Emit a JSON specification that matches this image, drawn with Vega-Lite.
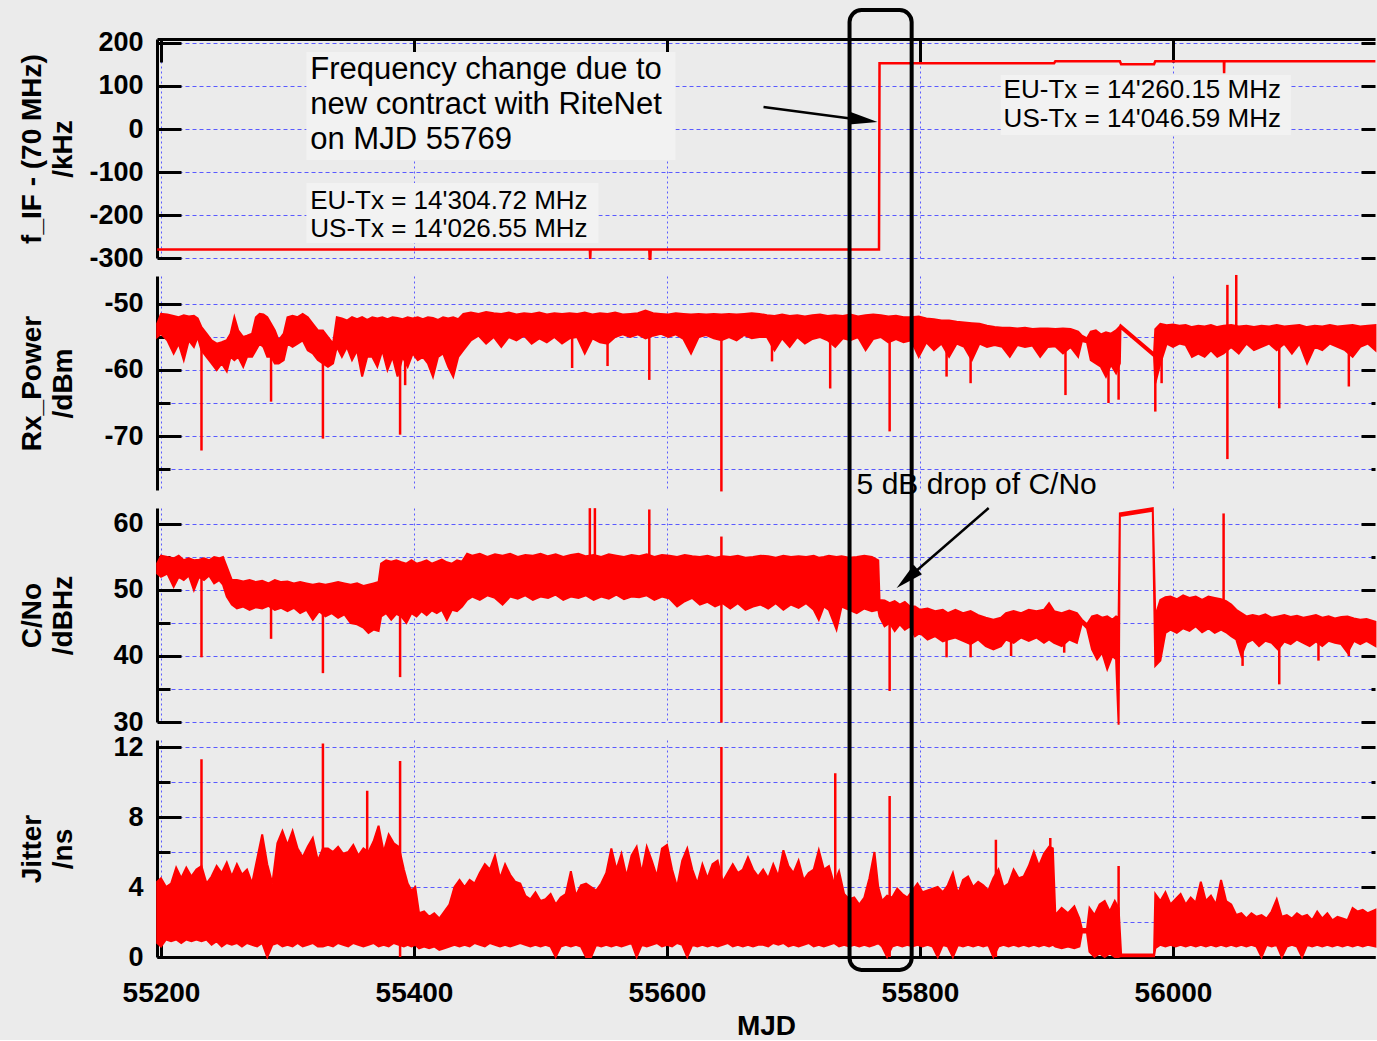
{
"$schema":"https://vega.github.io/schema/vega-lite/v6.json",
"background":"#ebebeb",
"padding":{"left":18,"top":8,"right":0,"bottom":0},
"spacing":18,
"bounds":"flush",
"config":{
 "view":{"stroke":null},
 "font":"Liberation Sans",
 "axis":{"labelFont":"Liberation Sans","labelFontWeight":"bold","labelColor":"#000000","titleFont":"Liberation Sans","titleFontWeight":"bold","titleColor":"#000000","domainColor":"#000000","tickColor":"#000000","gridColor":"#5a5aff","gridOpacity":1,"gridWidth":1,"labelOverlap":false,"labelFlush":false,"tickWidth":3,"domainWidth":3}
},
"datasets":{
 "boxes":[{"x1":55314.9,"x2":55606.7,"y1":179.1,"y2":-72.1},{"x1":55314.9,"x2":55545.8,"y1":-125.6,"y2":-265.1},{"x1":55863.8,"x2":56093.2,"y1":125.6,"y2":-14}],
 "note1":[{"x":55318,"y":137.2,"text":"Frequency change due to"},{"x":55318,"y":55.8,"text":"new contract with RiteNet"},{"x":55318,"y":-25.6,"text":"on MJD 55769"}],
 "note2":[{"x":55318,"y":-166.3,"text":"EU-Tx = 14'304.72 MHz"},{"x":55318,"y":-233.7,"text":"US-Tx = 14'026.55 MHz"},{"x":55866.1,"y":90.7,"text":"EU-Tx = 14'260.15 MHz"},{"x":55866.1,"y":23.3,"text":"US-Tx = 14'046.59 MHz"}],
 "arrow1":[{"x1":55676.3,"x2":55755.5,"y1":51.2,"y2":20.5}],
 "head1":[{"x":55755.5,"y":20.5}],
 "note3":[{"x":55749.9,"y":65.9,"text":"5 dB drop of C/No"}],
 "arrow2":[{"x1":55854.3,"x2":55789.9,"y1":62.42,"y2":51.7}],
 "head2":[{"x":55789.9,"y":51.7}],
 "frame":[{"x1":55744.3,"x2":55793.4,"y1":54.11,"y2":-0.74}],
 "fif":[{"mjd":55197,"v":-280},{"mjd":55539,"v":-280},{"mjd":55539.3,"v":-302},{"mjd":55539.6,"v":-280},{"mjd":55586,"v":-280},{"mjd":55586.3,"v":-302},{"mjd":55586.8,"v":-302},{"mjd":55587.1,"v":-280},{"mjd":55767.6,"v":-280},{"mjd":55768,"v":153},{"mjd":55906,"v":153},{"mjd":55907,"v":157.5},{"mjd":55958,"v":157.5},{"mjd":55959,"v":150.5},{"mjd":55985,"v":150.5},{"mjd":55986,"v":157.5},{"mjd":56040.2,"v":157.5},{"mjd":56040.4,"v":130},{"mjd":56040.6,"v":157.5},{"mjd":56160,"v":157.5}],
 "rxband":[{"mjd":55197,"lo":-55,"hi":-53},{"mjd":55200,"lo":-54.5,"hi":-51.5},{"mjd":55205,"lo":-55.5,"hi":-51.6},{"mjd":55210,"lo":-57.5,"hi":-51.8},{"mjd":55214,"lo":-56,"hi":-52},{"mjd":55218,"lo":-58.5,"hi":-51.7},{"mjd":55222,"lo":-55.5,"hi":-51.9},{"mjd":55226,"lo":-56.5,"hi":-51.8},{"mjd":55229,"lo":-55,"hi":-52.2},{"mjd":55232,"lo":-57,"hi":-53.5},{"mjd":55236,"lo":-58,"hi":-54.5},{"mjd":55240,"lo":-59,"hi":-55.5},{"mjd":55244,"lo":-60,"hi":-56},{"mjd":55248,"lo":-59,"hi":-55.8},{"mjd":55252,"lo":-60.2,"hi":-55.5},{"mjd":55255,"lo":-58,"hi":-54.5},{"mjd":55258,"lo":-58.5,"hi":-52},{"mjd":55261,"lo":-58,"hi":-54},{"mjd":55265,"lo":-59.5,"hi":-55},{"mjd":55268,"lo":-58,"hi":-54.8},{"mjd":55272,"lo":-58,"hi":-54.5},{"mjd":55275,"lo":-57,"hi":-52},{"mjd":55278,"lo":-56,"hi":-51.5},{"mjd":55281,"lo":-56.5,"hi":-51.6},{"mjd":55284,"lo":-58,"hi":-52},{"mjd":55287,"lo":-58,"hi":-53},{"mjd":55290,"lo":-59,"hi":-54},{"mjd":55293,"lo":-59,"hi":-55.5},{"mjd":55297,"lo":-58.5,"hi":-54.5},{"mjd":55300,"lo":-56,"hi":-52},{"mjd":55304,"lo":-56.5,"hi":-51.8},{"mjd":55308,"lo":-56,"hi":-52},{"mjd":55312,"lo":-55.5,"hi":-51.5},{"mjd":55316,"lo":-57,"hi":-52},{"mjd":55320,"lo":-57.5,"hi":-53},{"mjd":55324,"lo":-58.5,"hi":-54},{"mjd":55328,"lo":-59,"hi":-54},{"mjd":55332,"lo":-59.5,"hi":-55},{"mjd":55336,"lo":-59,"hi":-56},{"mjd":55339,"lo":-56.5,"hi":-52},{"mjd":55343,"lo":-58,"hi":-52.2},{"mjd":55347,"lo":-56.5,"hi":-52.5},{"mjd":55351,"lo":-58.5,"hi":-52},{"mjd":55355,"lo":-57,"hi":-52.3},{"mjd":55359,"lo":-61,"hi":-52},{"mjd":55363,"lo":-58,"hi":-52.4},{"mjd":55367,"lo":-58,"hi":-52},{"mjd":55371,"lo":-59.5,"hi":-52.2},{"mjd":55375,"lo":-57,"hi":-52},{"mjd":55379,"lo":-60,"hi":-52.3},{"mjd":55383,"lo":-58,"hi":-52},{"mjd":55387,"lo":-61,"hi":-52.1},{"mjd":55391,"lo":-58,"hi":-52.3},{"mjd":55395,"lo":-59.5,"hi":-52},{"mjd":55399,"lo":-57.5,"hi":-52.2},{"mjd":55403,"lo":-58.5,"hi":-52},{"mjd":55407,"lo":-58,"hi":-52.3},{"mjd":55411,"lo":-59,"hi":-52},{"mjd":55415,"lo":-61,"hi":-52.1},{"mjd":55419,"lo":-58,"hi":-52.4},{"mjd":55423,"lo":-57.5,"hi":-52},{"mjd":55427,"lo":-59.5,"hi":-52.2},{"mjd":55431,"lo":-61,"hi":-52},{"mjd":55435,"lo":-58,"hi":-52.3},{"mjd":55439,"lo":-57,"hi":-51.5},{"mjd":55445,"lo":-55.5,"hi":-51.3},{"mjd":55451,"lo":-54.8,"hi":-51.5},{"mjd":55457,"lo":-56,"hi":-51.2},{"mjd":55463,"lo":-55,"hi":-51.4},{"mjd":55469,"lo":-56.5,"hi":-51.5},{"mjd":55475,"lo":-55,"hi":-51.3},{"mjd":55481,"lo":-55.5,"hi":-51.6},{"mjd":55487,"lo":-54.8,"hi":-51.4},{"mjd":55493,"lo":-56,"hi":-51.5},{"mjd":55499,"lo":-55.2,"hi":-51.3},{"mjd":55505,"lo":-55.8,"hi":-51.6},{"mjd":55511,"lo":-55,"hi":-51.4},{"mjd":55517,"lo":-56,"hi":-51.5},{"mjd":55523,"lo":-55.2,"hi":-51.4},{"mjd":55529,"lo":-55,"hi":-51.5},{"mjd":55535,"lo":-57.5,"hi":-51.3},{"mjd":55541,"lo":-55.2,"hi":-51.6},{"mjd":55547,"lo":-55.8,"hi":-51.4},{"mjd":55553,"lo":-56,"hi":-51.5},{"mjd":55559,"lo":-55,"hi":-51.3},{"mjd":55565,"lo":-54.6,"hi":-51.6},{"mjd":55571,"lo":-55,"hi":-51.5},{"mjd":55577,"lo":-54.6,"hi":-51.4},{"mjd":55583,"lo":-55.2,"hi":-51},{"mjd":55589,"lo":-54.8,"hi":-51.4},{"mjd":55595,"lo":-54.5,"hi":-51.5},{"mjd":55601,"lo":-55,"hi":-51.6},{"mjd":55607,"lo":-54.6,"hi":-51.4},{"mjd":55613,"lo":-55.3,"hi":-51.5},{"mjd":55619,"lo":-57.5,"hi":-51.6},{"mjd":55625,"lo":-55,"hi":-51.5},{"mjd":55631,"lo":-54.7,"hi":-51.6},{"mjd":55637,"lo":-55.2,"hi":-51.5},{"mjd":55643,"lo":-55.5,"hi":-51.6},{"mjd":55649,"lo":-55,"hi":-51.5},{"mjd":55655,"lo":-55.5,"hi":-51.6},{"mjd":55661,"lo":-54.7,"hi":-51.5},{"mjd":55667,"lo":-55.2,"hi":-51.4},{"mjd":55673,"lo":-55,"hi":-51.5},{"mjd":55679,"lo":-55,"hi":-51.7},{"mjd":55685,"lo":-57,"hi":-51.8},{"mjd":55691,"lo":-55.2,"hi":-51.6},{"mjd":55697,"lo":-56.5,"hi":-51.8},{"mjd":55703,"lo":-55,"hi":-51.7},{"mjd":55709,"lo":-56,"hi":-51.9},{"mjd":55715,"lo":-55.3,"hi":-51.7},{"mjd":55721,"lo":-55,"hi":-51.6},{"mjd":55727,"lo":-55.5,"hi":-51.8},{"mjd":55733,"lo":-56.5,"hi":-51.7},{"mjd":55739,"lo":-55.2,"hi":-51.8},{"mjd":55745,"lo":-55.5,"hi":-51.6},{"mjd":55751,"lo":-55,"hi":-51.9},{"mjd":55757,"lo":-57,"hi":-51.7},{"mjd":55763,"lo":-55.3,"hi":-51.6},{"mjd":55769,"lo":-55,"hi":-51.7},{"mjd":55775,"lo":-55.8,"hi":-51.9},{"mjd":55781,"lo":-55.3,"hi":-51.8},{"mjd":55787,"lo":-55.8,"hi":-52},{"mjd":55793,"lo":-55.5,"hi":-52},{"mjd":55799,"lo":-58,"hi":-51.9},{"mjd":55805,"lo":-55.8,"hi":-52.2},{"mjd":55811,"lo":-57,"hi":-52.3},{"mjd":55817,"lo":-56,"hi":-52.5},{"mjd":55823,"lo":-58,"hi":-52.5},{"mjd":55829,"lo":-56,"hi":-52.7},{"mjd":55835,"lo":-56.5,"hi":-52.8},{"mjd":55841,"lo":-58.5,"hi":-52.9},{"mjd":55847,"lo":-56,"hi":-53},{"mjd":55853,"lo":-56.5,"hi":-53.3},{"mjd":55859,"lo":-56.2,"hi":-53.5},{"mjd":55865,"lo":-56.5,"hi":-53.6},{"mjd":55871,"lo":-58,"hi":-53.6},{"mjd":55877,"lo":-56.2,"hi":-53.7},{"mjd":55883,"lo":-56.5,"hi":-53.6},{"mjd":55889,"lo":-56.3,"hi":-53.8},{"mjd":55895,"lo":-58,"hi":-53.7},{"mjd":55901,"lo":-56.5,"hi":-53.7},{"mjd":55907,"lo":-56.4,"hi":-53.8},{"mjd":55913,"lo":-57.5,"hi":-53.7},{"mjd":55919,"lo":-56.5,"hi":-53.8},{"mjd":55925,"lo":-58,"hi":-54.2},{"mjd":55928,"lo":-55.6,"hi":-54.8},{"mjd":55932,"lo":-55.8,"hi":-55.2},{"mjd":55935,"lo":-58.5,"hi":-54.2},{"mjd":55939,"lo":-59,"hi":-54},{"mjd":55943,"lo":-59.5,"hi":-54.6},{"mjd":55947,"lo":-61,"hi":-54.3},{"mjd":55951,"lo":-59.2,"hi":-54.5},{"mjd":55955,"lo":-60.5,"hi":-54},{"mjd":55958,"lo":-59,"hi":-53.4},{"mjd":55958.5,"lo":-53.6,"hi":-53.2},{"mjd":55985,"lo":-57.9,"hi":-57.5},{"mjd":55986,"lo":-62,"hi":-53.8},{"mjd":55990,"lo":-59,"hi":-53},{"mjd":55995,"lo":-56,"hi":-53.2},{"mjd":56000,"lo":-56.5,"hi":-53.1},{"mjd":56005,"lo":-56,"hi":-53.3},{"mjd":56010,"lo":-56.2,"hi":-53.2},{"mjd":56015,"lo":-58,"hi":-53.5},{"mjd":56020,"lo":-57.5,"hi":-53.3},{"mjd":56025,"lo":-58,"hi":-53.4},{"mjd":56030,"lo":-57,"hi":-53.2},{"mjd":56035,"lo":-58,"hi":-53.5},{"mjd":56040,"lo":-57.5,"hi":-53.3},{"mjd":56046,"lo":-56.5,"hi":-53.2},{"mjd":56052,"lo":-57.5,"hi":-53.4},{"mjd":56058,"lo":-56,"hi":-53.3},{"mjd":56064,"lo":-57,"hi":-53.5},{"mjd":56070,"lo":-56.5,"hi":-53.3},{"mjd":56076,"lo":-56,"hi":-53.4},{"mjd":56082,"lo":-57,"hi":-53.2},{"mjd":56088,"lo":-56,"hi":-53.4},{"mjd":56094,"lo":-57.5,"hi":-53.3},{"mjd":56100,"lo":-56,"hi":-53.2},{"mjd":56106,"lo":-59,"hi":-53.5},{"mjd":56112,"lo":-56.5,"hi":-53.3},{"mjd":56118,"lo":-57,"hi":-53.4},{"mjd":56124,"lo":-56,"hi":-53.2},{"mjd":56130,"lo":-56.5,"hi":-53.4},{"mjd":56136,"lo":-57,"hi":-53.3},{"mjd":56142,"lo":-58,"hi":-53.2},{"mjd":56148,"lo":-56.5,"hi":-53.4},{"mjd":56154,"lo":-56,"hi":-53.3},{"mjd":56160,"lo":-57,"hi":-53.2}],
 "rxspike":[{"mjd":55232,"lo":-72.2,"hi":-55},{"mjd":55287,"lo":-64.8,"hi":-56},{"mjd":55328,"lo":-70.4,"hi":-56},{"mjd":55389,"lo":-69.8,"hi":-55},{"mjd":55393,"lo":-62.3,"hi":-56},{"mjd":55525,"lo":-59.7,"hi":-53},{"mjd":55553,"lo":-59.4,"hi":-53},{"mjd":55586,"lo":-61.5,"hi":-53},{"mjd":55643,"lo":-78.4,"hi":-53},{"mjd":55683,"lo":-58.7,"hi":-53},{"mjd":55729,"lo":-62.8,"hi":-54},{"mjd":55776,"lo":-69.3,"hi":-54},{"mjd":55821,"lo":-61,"hi":-54},{"mjd":55840,"lo":-62,"hi":-54},{"mjd":55915,"lo":-63.8,"hi":-55},{"mjd":55949,"lo":-65,"hi":-57},{"mjd":55957,"lo":-64.5,"hi":-57},{"mjd":55986,"lo":-66.3,"hi":-58},{"mjd":55991,"lo":-62,"hi":-56},{"mjd":56043,"lo":-73.5,"hi":-47.1},{"mjd":56050,"lo":-56,"hi":-45.6},{"mjd":56084,"lo":-65.8,"hi":-55},{"mjd":56139,"lo":-62.5,"hi":-55}],
 "cnband":[{"mjd":55197,"lo":52.5,"hi":54},{"mjd":55200,"lo":52,"hi":55.2},{"mjd":55205,"lo":52.5,"hi":55},{"mjd":55210,"lo":50.5,"hi":54.8},{"mjd":55214,"lo":52,"hi":55.2},{"mjd":55218,"lo":51.5,"hi":54.5},{"mjd":55222,"lo":52.2,"hi":54.8},{"mjd":55226,"lo":50,"hi":54.5},{"mjd":55230,"lo":52,"hi":54.6},{"mjd":55234,"lo":51.5,"hi":54.8},{"mjd":55238,"lo":52.2,"hi":54.5},{"mjd":55242,"lo":51,"hi":55},{"mjd":55246,"lo":51.5,"hi":54.8},{"mjd":55249,"lo":50.8,"hi":55},{"mjd":55252,"lo":49,"hi":53.5},{"mjd":55256,"lo":47.8,"hi":51.5},{"mjd":55260,"lo":47.2,"hi":51.5},{"mjd":55265,"lo":47.5,"hi":51.3},{"mjd":55270,"lo":47,"hi":51.5},{"mjd":55275,"lo":47.4,"hi":51.2},{"mjd":55280,"lo":47.2,"hi":51.4},{"mjd":55285,"lo":47.6,"hi":51},{"mjd":55290,"lo":47,"hi":51.5},{"mjd":55295,"lo":47.3,"hi":51.2},{"mjd":55300,"lo":46.8,"hi":51.3},{"mjd":55305,"lo":47.3,"hi":51},{"mjd":55310,"lo":46.5,"hi":51.2},{"mjd":55315,"lo":47,"hi":51},{"mjd":55320,"lo":45.5,"hi":50.8},{"mjd":55325,"lo":46.8,"hi":51},{"mjd":55330,"lo":46,"hi":50.8},{"mjd":55335,"lo":46.5,"hi":51},{"mjd":55340,"lo":45.8,"hi":51.2},{"mjd":55345,"lo":46.3,"hi":51},{"mjd":55350,"lo":45,"hi":50.8},{"mjd":55355,"lo":44.8,"hi":51},{"mjd":55360,"lo":44.3,"hi":50.6},{"mjd":55364,"lo":43.5,"hi":50.8},{"mjd":55368,"lo":44,"hi":51},{"mjd":55372,"lo":43.8,"hi":51.2},{"mjd":55374,"lo":46,"hi":54},{"mjd":55378,"lo":46.5,"hi":54.5},{"mjd":55382,"lo":45.5,"hi":54.3},{"mjd":55386,"lo":46.4,"hi":54.5},{"mjd":55390,"lo":46,"hi":54.2},{"mjd":55394,"lo":45,"hi":54},{"mjd":55398,"lo":46.5,"hi":54.5},{"mjd":55402,"lo":46,"hi":54},{"mjd":55406,"lo":46.8,"hi":54.2},{"mjd":55410,"lo":46.2,"hi":54.5},{"mjd":55414,"lo":46.9,"hi":54},{"mjd":55418,"lo":46.5,"hi":54.3},{"mjd":55422,"lo":47,"hi":54.6},{"mjd":55426,"lo":45.5,"hi":54.2},{"mjd":55430,"lo":47,"hi":54},{"mjd":55434,"lo":46.8,"hi":54.5},{"mjd":55438,"lo":47.5,"hi":54.3},{"mjd":55442,"lo":48.5,"hi":55.5},{"mjd":55446,"lo":49,"hi":55.2},{"mjd":55452,"lo":48.5,"hi":55.5},{"mjd":55458,"lo":49.2,"hi":55},{"mjd":55464,"lo":48.8,"hi":55.4},{"mjd":55470,"lo":47.8,"hi":55.2},{"mjd":55476,"lo":49,"hi":55.5},{"mjd":55482,"lo":48.7,"hi":55},{"mjd":55488,"lo":49.2,"hi":55.3},{"mjd":55494,"lo":48.5,"hi":55.2},{"mjd":55500,"lo":49,"hi":55.5},{"mjd":55506,"lo":48.8,"hi":55.1},{"mjd":55512,"lo":49.3,"hi":55.4},{"mjd":55518,"lo":48.5,"hi":55},{"mjd":55524,"lo":49,"hi":55.3},{"mjd":55530,"lo":48.8,"hi":55.5},{"mjd":55536,"lo":49.2,"hi":55.1},{"mjd":55542,"lo":48.5,"hi":55.3},{"mjd":55548,"lo":49,"hi":55},{"mjd":55554,"lo":48.7,"hi":55.4},{"mjd":55560,"lo":49.3,"hi":55.2},{"mjd":55566,"lo":48.6,"hi":55},{"mjd":55572,"lo":49,"hi":55.3},{"mjd":55578,"lo":48.9,"hi":55.1},{"mjd":55584,"lo":49.2,"hi":55.4},{"mjd":55590,"lo":48.5,"hi":55},{"mjd":55596,"lo":49,"hi":55.3},{"mjd":55602,"lo":48.7,"hi":55.2},{"mjd":55608,"lo":47.5,"hi":55},{"mjd":55614,"lo":48.3,"hi":55.3},{"mjd":55620,"lo":48.8,"hi":55.1},{"mjd":55626,"lo":47.8,"hi":55},{"mjd":55632,"lo":48.2,"hi":55.2},{"mjd":55638,"lo":47.5,"hi":54.9},{"mjd":55644,"lo":48,"hi":55.1},{"mjd":55650,"lo":47.2,"hi":55},{"mjd":55656,"lo":48,"hi":55.2},{"mjd":55662,"lo":47,"hi":54.9},{"mjd":55668,"lo":47.5,"hi":55},{"mjd":55674,"lo":47.8,"hi":55.2},{"mjd":55680,"lo":47.2,"hi":55.1},{"mjd":55686,"lo":48,"hi":54.9},{"mjd":55692,"lo":47,"hi":55.2},{"mjd":55698,"lo":47.8,"hi":55},{"mjd":55704,"lo":47.3,"hi":55.1},{"mjd":55710,"lo":48,"hi":55},{"mjd":55716,"lo":47,"hi":55.2},{"mjd":55720,"lo":45.5,"hi":54.9},{"mjd":55724,"lo":47.5,"hi":55},{"mjd":55728,"lo":47,"hi":55.2},{"mjd":55734,"lo":44,"hi":55},{"mjd":55738,"lo":47.5,"hi":55.1},{"mjd":55744,"lo":47,"hi":54.9},{"mjd":55750,"lo":46.5,"hi":55},{"mjd":55756,"lo":47.2,"hi":55.2},{"mjd":55762,"lo":46.8,"hi":55},{"mjd":55767,"lo":47,"hi":54.5},{"mjd":55768,"lo":46,"hi":48.5},{"mjd":55772,"lo":44.5,"hi":48.4},{"mjd":55776,"lo":45,"hi":48},{"mjd":55780,"lo":43.8,"hi":48.3},{"mjd":55784,"lo":44.8,"hi":47.8},{"mjd":55788,"lo":44,"hi":48.2},{"mjd":55792,"lo":44.5,"hi":47.5},{"mjd":55796,"lo":43,"hi":47.5},{"mjd":55800,"lo":43.5,"hi":47},{"mjd":55806,"lo":42.5,"hi":47.2},{"mjd":55812,"lo":43,"hi":46.8},{"mjd":55818,"lo":42.2,"hi":47},{"mjd":55822,"lo":42.5,"hi":46.5},{"mjd":55828,"lo":42.8,"hi":47},{"mjd":55834,"lo":42.3,"hi":46.5},{"mjd":55840,"lo":41.8,"hi":46.8},{"mjd":55846,"lo":42.5,"hi":46.2},{"mjd":55852,"lo":41.5,"hi":45.8},{"mjd":55858,"lo":41,"hi":45.5},{"mjd":55864,"lo":41.5,"hi":45.8},{"mjd":55868,"lo":42.5,"hi":46.5},{"mjd":55874,"lo":42,"hi":46.8},{"mjd":55880,"lo":42.8,"hi":46.5},{"mjd":55886,"lo":42.3,"hi":47},{"mjd":55892,"lo":42.8,"hi":46.8},{"mjd":55898,"lo":42,"hi":47},{"mjd":55902,"lo":42.5,"hi":48},{"mjd":55906,"lo":42,"hi":46.8},{"mjd":55912,"lo":41.5,"hi":46.5},{"mjd":55918,"lo":42.5,"hi":46.9},{"mjd":55924,"lo":42,"hi":46.5},{"mjd":55928,"lo":45,"hi":45.5},{"mjd":55932,"lo":44.2,"hi":44.8},{"mjd":55936,"lo":41,"hi":46},{"mjd":55940,"lo":39.5,"hi":46.2},{"mjd":55944,"lo":40.5,"hi":45.8},{"mjd":55948,"lo":38,"hi":46},{"mjd":55952,"lo":40,"hi":45.5},{"mjd":55955,"lo":39.5,"hi":46},{"mjd":55957,"lo":29.6,"hi":45.8},{"mjd":55958,"lo":61.2,"hi":61.6},{"mjd":55984,"lo":62,"hi":62.4},{"mjd":55986,"lo":38.5,"hi":46},{"mjd":55990,"lo":39.3,"hi":48.5},{"mjd":55994,"lo":43.5,"hi":48.9},{"mjd":55998,"lo":44,"hi":49},{"mjd":56003,"lo":43.5,"hi":48.6},{"mjd":56008,"lo":44.2,"hi":49.2},{"mjd":56013,"lo":43.8,"hi":48.8},{"mjd":56018,"lo":44.5,"hi":49},{"mjd":56023,"lo":43.6,"hi":48.5},{"mjd":56028,"lo":44.2,"hi":49},{"mjd":56033,"lo":43.5,"hi":48.8},{"mjd":56038,"lo":44,"hi":48.6},{"mjd":56042,"lo":43.6,"hi":48.3},{"mjd":56046,"lo":43,"hi":47.8},{"mjd":56050,"lo":42.5,"hi":47},{"mjd":56054,"lo":40,"hi":46.5},{"mjd":56058,"lo":42,"hi":46},{"mjd":56063,"lo":42.5,"hi":46.2},{"mjd":56068,"lo":41.5,"hi":46},{"mjd":56073,"lo":42.3,"hi":46.3},{"mjd":56078,"lo":42,"hi":45.8},{"mjd":56083,"lo":41,"hi":46},{"mjd":56088,"lo":42.2,"hi":46.2},{"mjd":56093,"lo":41.8,"hi":45.9},{"mjd":56098,"lo":42.5,"hi":46.1},{"mjd":56103,"lo":42,"hi":45.8},{"mjd":56108,"lo":41.5,"hi":46},{"mjd":56113,"lo":42.2,"hi":46.2},{"mjd":56118,"lo":41.5,"hi":45.8},{"mjd":56123,"lo":42.3,"hi":46},{"mjd":56128,"lo":42,"hi":45.7},{"mjd":56133,"lo":41.8,"hi":45.9},{"mjd":56138,"lo":40.5,"hi":46},{"mjd":56143,"lo":42.3,"hi":45.7},{"mjd":56148,"lo":41.8,"hi":45.5},{"mjd":56153,"lo":42.3,"hi":45.6},{"mjd":56160,"lo":41.5,"hi":45.2}],
 "cnspike":[{"mjd":55232,"lo":39.8,"hi":52},{"mjd":55287,"lo":42.6,"hi":48},{"mjd":55328,"lo":37.4,"hi":48},{"mjd":55389,"lo":36.8,"hi":48},{"mjd":55539,"lo":50,"hi":62.4},{"mjd":55543,"lo":50,"hi":62.4},{"mjd":55586,"lo":50,"hi":62.2},{"mjd":55643,"lo":29.9,"hi":58.1},{"mjd":55776,"lo":34.7,"hi":46},{"mjd":55821,"lo":39.8,"hi":45},{"mjd":55840,"lo":39.8,"hi":45},{"mjd":55872,"lo":40,"hi":45},{"mjd":55914,"lo":40.5,"hi":45},{"mjd":56040,"lo":45,"hi":61.6},{"mjd":56055,"lo":38.5,"hi":45},{"mjd":56084,"lo":35.7,"hi":44},{"mjd":56115,"lo":39.3,"hi":44},{"mjd":56139,"lo":40,"hi":44}],
 "jtband":[{"mjd":55197,"lo":0.8,"hi":4.3},{"mjd":55200,"lo":0.6,"hi":4.5},{"mjd":55204,"lo":1,"hi":4},{"mjd":55208,"lo":0.9,"hi":4.2},{"mjd":55212,"lo":1,"hi":5.1},{"mjd":55216,"lo":0.8,"hi":4.5},{"mjd":55220,"lo":1,"hi":5.1},{"mjd":55224,"lo":0.9,"hi":4.6},{"mjd":55228,"lo":1,"hi":5},{"mjd":55232,"lo":0.9,"hi":5.2},{"mjd":55236,"lo":1,"hi":4.2},{"mjd":55240,"lo":0.7,"hi":4.6},{"mjd":55244,"lo":0.9,"hi":5.2},{"mjd":55248,"lo":0.6,"hi":4.8},{"mjd":55252,"lo":0.8,"hi":5.4},{"mjd":55256,"lo":0.7,"hi":4.6},{"mjd":55260,"lo":0.8,"hi":5.3},{"mjd":55264,"lo":0.6,"hi":4.7},{"mjd":55268,"lo":0.8,"hi":5},{"mjd":55272,"lo":0.7,"hi":4.2},{"mjd":55276,"lo":0.6,"hi":5.6},{"mjd":55280,"lo":0.8,"hi":7},{"mjd":55284,"lo":0,"hi":5.3},{"mjd":55288,"lo":0.7,"hi":4.2},{"mjd":55292,"lo":0.8,"hi":6.5},{"mjd":55296,"lo":0.6,"hi":7.2},{"mjd":55300,"lo":0.7,"hi":6.4},{"mjd":55304,"lo":0.6,"hi":7.2},{"mjd":55308,"lo":0.8,"hi":6.2},{"mjd":55312,"lo":0.6,"hi":5.7},{"mjd":55316,"lo":0.7,"hi":6.3},{"mjd":55320,"lo":0.8,"hi":6.8},{"mjd":55324,"lo":0.6,"hi":5.5},{"mjd":55328,"lo":0.6,"hi":6.2},{"mjd":55332,"lo":0.7,"hi":6.2},{"mjd":55336,"lo":0.6,"hi":6},{"mjd":55340,"lo":0.8,"hi":6.3},{"mjd":55344,"lo":0.7,"hi":5.9},{"mjd":55348,"lo":0.6,"hi":6},{"mjd":55352,"lo":0.8,"hi":6.4},{"mjd":55356,"lo":0.7,"hi":5.8},{"mjd":55360,"lo":0.6,"hi":6.2},{"mjd":55364,"lo":0.7,"hi":6},{"mjd":55368,"lo":0.8,"hi":6.6},{"mjd":55372,"lo":0.6,"hi":7.5},{"mjd":55376,"lo":0.7,"hi":6},{"mjd":55380,"lo":0.6,"hi":7},{"mjd":55384,"lo":0.8,"hi":6.5},{"mjd":55388,"lo":0.7,"hi":6.3},{"mjd":55392,"lo":0.6,"hi":5},{"mjd":55395,"lo":0.7,"hi":4.2},{"mjd":55398,"lo":0.6,"hi":3.8},{"mjd":55401,"lo":0.7,"hi":4},{"mjd":55404,"lo":0.5,"hi":2.5},{"mjd":55408,"lo":0.6,"hi":2.6},{"mjd":55412,"lo":0.5,"hi":2.3},{"mjd":55416,"lo":0.6,"hi":2.5},{"mjd":55420,"lo":0.4,"hi":2.2},{"mjd":55424,"lo":0.5,"hi":2.6},{"mjd":55428,"lo":0.6,"hi":3},{"mjd":55432,"lo":0.7,"hi":4},{"mjd":55436,"lo":0.6,"hi":4.4},{"mjd":55440,"lo":0.7,"hi":4},{"mjd":55444,"lo":0.6,"hi":4.4},{"mjd":55448,"lo":0.8,"hi":4.2},{"mjd":55452,"lo":0.7,"hi":4.8},{"mjd":55456,"lo":0.6,"hi":5.3},{"mjd":55460,"lo":0.8,"hi":5},{"mjd":55464,"lo":0.7,"hi":5.8},{"mjd":55468,"lo":0.6,"hi":4.5},{"mjd":55472,"lo":0.7,"hi":5.3},{"mjd":55476,"lo":0.6,"hi":4.7},{"mjd":55480,"lo":0.7,"hi":4.3},{"mjd":55484,"lo":0.8,"hi":4.2},{"mjd":55488,"lo":0.7,"hi":3.5},{"mjd":55492,"lo":0.6,"hi":3.3},{"mjd":55496,"lo":0.7,"hi":3.7},{"mjd":55500,"lo":0.6,"hi":3.2},{"mjd":55504,"lo":0.7,"hi":3.3},{"mjd":55508,"lo":0.6,"hi":3.6},{"mjd":55512,"lo":0,"hi":3},{"mjd":55516,"lo":0.6,"hi":3.4},{"mjd":55520,"lo":0.7,"hi":3.6},{"mjd":55524,"lo":0.6,"hi":4.9},{"mjd":55528,"lo":0.7,"hi":3.5},{"mjd":55532,"lo":0.6,"hi":4.1},{"mjd":55536,"lo":0,"hi":4.2},{"mjd":55540,"lo":0,"hi":4},{"mjd":55544,"lo":0.7,"hi":3.8},{"mjd":55548,"lo":0.6,"hi":4.2},{"mjd":55552,"lo":0.7,"hi":4.8},{"mjd":55556,"lo":0.6,"hi":6.2},{"mjd":55560,"lo":0.7,"hi":5},{"mjd":55564,"lo":0.6,"hi":5.9},{"mjd":55568,"lo":0.7,"hi":4.6},{"mjd":55572,"lo":0.8,"hi":5.8},{"mjd":55576,"lo":0,"hi":6.3},{"mjd":55580,"lo":0.7,"hi":4.8},{"mjd":55584,"lo":0.6,"hi":6.3},{"mjd":55588,"lo":0.7,"hi":5.5},{"mjd":55592,"lo":0.8,"hi":4.6},{"mjd":55596,"lo":0.6,"hi":6.2},{"mjd":55600,"lo":0.7,"hi":6.4},{"mjd":55604,"lo":0.6,"hi":5},{"mjd":55608,"lo":0.8,"hi":4},{"mjd":55612,"lo":0.7,"hi":5.5},{"mjd":55616,"lo":0,"hi":6.2},{"mjd":55620,"lo":0.7,"hi":5},{"mjd":55624,"lo":0.6,"hi":4.2},{"mjd":55628,"lo":0.7,"hi":5.3},{"mjd":55632,"lo":0.6,"hi":4.5},{"mjd":55636,"lo":0.7,"hi":5.3},{"mjd":55640,"lo":0.6,"hi":5.5},{"mjd":55644,"lo":0.7,"hi":4.3},{"mjd":55648,"lo":0.8,"hi":4.8},{"mjd":55652,"lo":0.6,"hi":5.3},{"mjd":55656,"lo":0.7,"hi":4.8},{"mjd":55660,"lo":0.6,"hi":5},{"mjd":55664,"lo":0.7,"hi":5.7},{"mjd":55668,"lo":0.6,"hi":5},{"mjd":55672,"lo":0.7,"hi":4.6},{"mjd":55676,"lo":0.7,"hi":5},{"mjd":55680,"lo":0.6,"hi":4.5},{"mjd":55684,"lo":0.8,"hi":5.3},{"mjd":55688,"lo":0.7,"hi":4.6},{"mjd":55692,"lo":0.8,"hi":6.1},{"mjd":55696,"lo":0.6,"hi":5.2},{"mjd":55700,"lo":0.7,"hi":4.8},{"mjd":55704,"lo":0.6,"hi":5.5},{"mjd":55708,"lo":0.7,"hi":4.4},{"mjd":55712,"lo":0.8,"hi":4.8},{"mjd":55716,"lo":0.6,"hi":5},{"mjd":55720,"lo":0.7,"hi":6.1},{"mjd":55724,"lo":0.6,"hi":5},{"mjd":55728,"lo":0.7,"hi":5.2},{"mjd":55732,"lo":0.8,"hi":4.2},{"mjd":55736,"lo":0.6,"hi":4.9},{"mjd":55740,"lo":0.7,"hi":3.6},{"mjd":55744,"lo":0.6,"hi":3.3},{"mjd":55748,"lo":0.7,"hi":3.4},{"mjd":55752,"lo":0.6,"hi":3},{"mjd":55756,"lo":0.7,"hi":3.4},{"mjd":55760,"lo":0.6,"hi":4.5},{"mjd":55764,"lo":0.7,"hi":6},{"mjd":55767,"lo":0.8,"hi":4},{"mjd":55770,"lo":0.6,"hi":3.2},{"mjd":55774,"lo":0,"hi":3.5},{"mjd":55778,"lo":0.6,"hi":3.4},{"mjd":55782,"lo":0.7,"hi":3.9},{"mjd":55786,"lo":0.6,"hi":3.6},{"mjd":55790,"lo":0.7,"hi":3.4},{"mjd":55794,"lo":0.6,"hi":3.8},{"mjd":55798,"lo":0.7,"hi":4.2},{"mjd":55802,"lo":0.6,"hi":3.7},{"mjd":55806,"lo":0.7,"hi":3.8},{"mjd":55810,"lo":0.6,"hi":3.9},{"mjd":55814,"lo":0,"hi":4},{"mjd":55818,"lo":0.7,"hi":3.7},{"mjd":55822,"lo":0.6,"hi":4.1},{"mjd":55826,"lo":0,"hi":4.8},{"mjd":55830,"lo":0.7,"hi":3.6},{"mjd":55834,"lo":0.6,"hi":4.4},{"mjd":55838,"lo":0.7,"hi":4.6},{"mjd":55842,"lo":0.6,"hi":4},{"mjd":55846,"lo":0.7,"hi":4.3},{"mjd":55850,"lo":0.6,"hi":4.1},{"mjd":55854,"lo":0.7,"hi":3.8},{"mjd":55858,"lo":0,"hi":4.5},{"mjd":55862,"lo":0.6,"hi":5},{"mjd":55866,"lo":0.7,"hi":4},{"mjd":55870,"lo":0.6,"hi":4.2},{"mjd":55874,"lo":0.7,"hi":5},{"mjd":55878,"lo":0.6,"hi":4.5},{"mjd":55882,"lo":0.7,"hi":4.6},{"mjd":55886,"lo":0.6,"hi":5.2},{"mjd":55890,"lo":0.7,"hi":6},{"mjd":55894,"lo":0.6,"hi":5.2},{"mjd":55898,"lo":0.7,"hi":5.9},{"mjd":55902,"lo":0.6,"hi":6.3},{"mjd":55905,"lo":0.7,"hi":6.2},{"mjd":55907,"lo":0.6,"hi":2.4},{"mjd":55912,"lo":0.5,"hi":2.8},{"mjd":55917,"lo":0.6,"hi":2.5},{"mjd":55922,"lo":0.5,"hi":2.9},{"mjd":55926,"lo":0.6,"hi":2.2},{"mjd":55928,"lo":1.4,"hi":1.6},{"mjd":55932,"lo":1.4,"hi":1.6},{"mjd":55934,"lo":0.3,"hi":2.8},{"mjd":55938,"lo":0,"hi":2.4},{"mjd":55942,"lo":0.2,"hi":3},{"mjd":55946,"lo":0,"hi":3.2},{"mjd":55950,"lo":0.2,"hi":2.6},{"mjd":55954,"lo":0,"hi":3.2},{"mjd":55957,"lo":0,"hi":2.8},{"mjd":55959,"lo":0.05,"hi":0.15},{"mjd":55985,"lo":0.05,"hi":0.15},{"mjd":55986,"lo":0.5,"hi":3.6},{"mjd":55990,"lo":0.7,"hi":3.2},{"mjd":55994,"lo":0.6,"hi":3.7},{"mjd":55998,"lo":0.7,"hi":3},{"mjd":56002,"lo":0.6,"hi":3.3},{"mjd":56006,"lo":0.7,"hi":3.6},{"mjd":56010,"lo":0.6,"hi":3},{"mjd":56014,"lo":0.7,"hi":3.4},{"mjd":56018,"lo":0.6,"hi":3.1},{"mjd":56022,"lo":0.7,"hi":4.3},{"mjd":56026,"lo":0.6,"hi":3.2},{"mjd":56030,"lo":0.7,"hi":3.5},{"mjd":56034,"lo":0.6,"hi":3},{"mjd":56038,"lo":0.7,"hi":4.4},{"mjd":56042,"lo":0.6,"hi":3.2},{"mjd":56046,"lo":0.7,"hi":3},{"mjd":56050,"lo":0.6,"hi":2.4},{"mjd":56054,"lo":0.7,"hi":2.5},{"mjd":56058,"lo":0.6,"hi":2.2},{"mjd":56062,"lo":0.7,"hi":2.5},{"mjd":56066,"lo":0.6,"hi":2.3},{"mjd":56070,"lo":0,"hi":2.4},{"mjd":56074,"lo":0.7,"hi":2.2},{"mjd":56078,"lo":0.6,"hi":2.6},{"mjd":56082,"lo":0.7,"hi":3.3},{"mjd":56086,"lo":0,"hi":2.3},{"mjd":56090,"lo":0.6,"hi":2.4},{"mjd":56094,"lo":0.7,"hi":2.2},{"mjd":56098,"lo":0.6,"hi":2.5},{"mjd":56102,"lo":0,"hi":2.3},{"mjd":56106,"lo":0.7,"hi":2.4},{"mjd":56110,"lo":0.6,"hi":2.1},{"mjd":56114,"lo":0.7,"hi":2.6},{"mjd":56118,"lo":0.6,"hi":2.2},{"mjd":56122,"lo":0.7,"hi":2.5},{"mjd":56126,"lo":0.6,"hi":2.1},{"mjd":56130,"lo":0.7,"hi":2.3},{"mjd":56134,"lo":0.6,"hi":2.2},{"mjd":56138,"lo":0.7,"hi":2.1},{"mjd":56142,"lo":0.6,"hi":2.8},{"mjd":56146,"lo":0.7,"hi":2.6},{"mjd":56150,"lo":0.6,"hi":2.7},{"mjd":56154,"lo":0.7,"hi":2.5},{"mjd":56160,"lo":0.6,"hi":2.7}],
 "jtspike":[{"mjd":55232,"lo":1,"hi":11.3},{"mjd":55328,"lo":1,"hi":12.2},{"mjd":55363,"lo":1,"hi":9.5},{"mjd":55389,"lo":0,"hi":11.2},{"mjd":55643,"lo":1,"hi":12},{"mjd":55733,"lo":1,"hi":10.5},{"mjd":55776,"lo":0,"hi":9.2},{"mjd":55860,"lo":0,"hi":6.7},{"mjd":55903,"lo":1,"hi":6.8},{"mjd":55957,"lo":0,"hi":5.2}]
},
"vconcat":[
 {"width":1218,"height":219,"resolve":{"axis":{"y":"independent"}},
  "layer":[
   {"data":{"name":"boxes"},"mark":{"type":"rect","fill":"#f2f2f2"},
    "encoding":{
     "x":{"field":"x1","type":"quantitative","scale":{"domain":[55196.838,56159.684],"nice":false,"zero":false},"axis":{"orient":"top","title":null,"labels":false,"values":[55200,55400,55600,55800,56000],"tickSize":-23,"grid":true,"gridDash":[2,3]}},
     "x2":{"field":"x2"},
     "y":{"field":"y1","type":"quantitative","scale":{"domain":[-300,209.3023],"nice":false,"zero":false},"axis":{"title":["f_IF - (70 MHz)","/kHz"],"titleFontSize":28,"titleLineHeight":31,"titleX":-139,"titleBaseline":"top","values":[-300,-200,-100,0,100,200],"labelExpr":"toString(datum.value)","labelFontSize":27,"labelPadding":38,"tickSize":-24,"grid":true,"gridDash":[4,3]}},
     "y2":{"field":"y2"}}},
   {"data":{"name":"fif"},"mark":{"type":"line","color":"#ff0000","strokeWidth":2.5},
    "encoding":{"x":{"field":"mjd","type":"quantitative"},"y":{"field":"v","type":"quantitative","axis":{"orient":"right","title":null,"labels":false,"domain":false,"grid":false,"values":[-300,-200,-100,0,100,200],"tickSize":-14}}}},
   {"data":{"name":"note1"},"mark":{"type":"text","align":"left","baseline":"middle","font":"Liberation Sans","fontSize":31,"color":"#000000"},
    "encoding":{"x":{"field":"x","type":"quantitative"},"y":{"field":"y","type":"quantitative","axis":null},"text":{"field":"text"}}},
   {"data":{"name":"note2"},"mark":{"type":"text","align":"left","baseline":"middle","font":"Liberation Sans","fontSize":26,"color":"#000000"},
    "encoding":{"x":{"field":"x","type":"quantitative"},"y":{"field":"y","type":"quantitative","axis":null},"text":{"field":"text"}}},
   {"data":{"name":"arrow1"},"mark":{"type":"rule","color":"#000000","strokeWidth":2.5},
    "encoding":{"x":{"field":"x1","type":"quantitative"},"x2":{"field":"x2"},"y":{"field":"y1","type":"quantitative","axis":null},"y2":{"field":"y2"}}},
   {"data":{"name":"head1"},"mark":{"type":"point","shape":"M-1,-0.45L1,0L-1,0.45Z","filled":true,"color":"#000000","opacity":1,"size":784,"angle":7.5},
    "encoding":{"x":{"field":"x","type":"quantitative"},"y":{"field":"y","type":"quantitative","axis":null}}}
  ]},
 {"width":1218,"height":214,"resolve":{"axis":{"y":"independent"}},
  "layer":[
   {"data":{"name":"rxband"},"mark":{"type":"area","color":"#ff0000","stroke":"#ff0000","strokeWidth":2,"opacity":1},
    "encoding":{
     "x":{"field":"mjd","type":"quantitative","scale":{"domain":[55196.838,56159.684],"nice":false,"zero":false},"axis":{"title":null,"labels":false,"ticks":false,"domain":false,"values":[55200,55400,55600,55800,56000],"grid":true,"gridDash":[2,3]}},
     "y":{"field":"lo","type":"quantitative","scale":{"domain":[-78.1818,-45.7576],"nice":false,"zero":false},"axis":{"title":["Rx_Power","/dBm"],"titleFontSize":28,"titleLineHeight":31,"titleX":-139,"titleBaseline":"top","values":[-75,-70,-65,-60,-55,-50],"labelExpr":"datum.value % 10 === 0 ? toString(datum.value) : ''","labelFontSize":27,"labelPadding":38,"tickSize":{"condition":{"test":"datum.value % 10 !== 0","value":-13},"value":-24},"grid":true,"gridDash":[4,3]}},
     "y2":{"field":"hi"}}},
   {"data":{"name":"rxspike"},"mark":{"type":"rule","color":"#ff0000","strokeWidth":2.5},
    "encoding":{"x":{"field":"mjd","type":"quantitative"},"y":{"field":"lo","type":"quantitative","axis":{"orient":"right","title":null,"labels":false,"domain":false,"grid":false,"values":[-75,-70,-65,-60,-55,-50],"tickSize":{"condition":{"test":"datum.value % 10 !== 0","value":-4},"value":-14}}},"y2":{"field":"hi"}}}
  ]},
 {"width":1218,"height":214,"resolve":{"axis":{"y":"independent"}},
  "layer":[
   {"data":{"name":"cnband"},"mark":{"type":"area","color":"#ff0000","stroke":"#ff0000","strokeWidth":2,"opacity":1},
    "encoding":{
     "x":{"field":"mjd","type":"quantitative","scale":{"domain":[55196.838,56159.684],"nice":false,"zero":false},"axis":{"title":null,"labels":false,"ticks":false,"domain":false,"values":[55200,55400,55600,55800,56000],"grid":true,"gridDash":[2,3]}},
     "y":{"field":"lo","type":"quantitative","scale":{"domain":[30,62.4242],"nice":false,"zero":false},"axis":{"title":["C/No","/dBHz"],"titleFontSize":28,"titleLineHeight":31,"titleX":-139,"titleBaseline":"top","values":[30,35,40,45,50,55,60],"labelExpr":"datum.value % 10 === 0 ? toString(datum.value) : ''","labelFontSize":27,"labelPadding":38,"tickSize":{"condition":{"test":"datum.value % 10 !== 0","value":-13},"value":-24},"grid":true,"gridDash":[4,3]}},
     "y2":{"field":"hi"}}},
   {"data":{"name":"cnspike"},"mark":{"type":"rule","color":"#ff0000","strokeWidth":2.5},
    "encoding":{"x":{"field":"mjd","type":"quantitative"},"y":{"field":"lo","type":"quantitative","axis":{"orient":"right","title":null,"labels":false,"domain":false,"grid":false,"values":[30,35,40,45,50,55,60],"tickSize":{"condition":{"test":"datum.value % 10 !== 0","value":-4},"value":-14}}},"y2":{"field":"hi"}}},
   {"data":{"name":"note3"},"mark":{"type":"text","align":"left","baseline":"middle","font":"Liberation Sans","fontSize":30,"color":"#000000"},
    "encoding":{"x":{"field":"x","type":"quantitative"},"y":{"field":"y","type":"quantitative","axis":null},"text":{"field":"text"}}},
   {"data":{"name":"arrow2"},"mark":{"type":"rule","color":"#000000","strokeWidth":2.5},
    "encoding":{"x":{"field":"x1","type":"quantitative"},"x2":{"field":"x2"},"y":{"field":"y1","type":"quantitative","axis":null},"y2":{"field":"y2"}}},
   {"data":{"name":"head2"},"mark":{"type":"point","shape":"M-1,-0.45L1,0L-1,0.45Z","filled":true,"color":"#000000","opacity":1,"size":784,"angle":139},
    "encoding":{"x":{"field":"x","type":"quantitative"},"y":{"field":"y","type":"quantitative","axis":null}}}
  ]},
 {"width":1218,"height":217,"resolve":{"axis":{"y":"independent"}},
  "layer":[
   {"data":{"name":"jtband"},"mark":{"type":"area","color":"#ff0000","stroke":"#ff0000","strokeWidth":2,"opacity":1},
    "encoding":{
     "x":{"field":"mjd","type":"quantitative","scale":{"domain":[55196.838,56159.684],"nice":false,"zero":false},"axis":{"title":"MJD","titleFontSize":28,"titlePadding":5,"labels":true,"labelFontSize":28,"labelPadding":37,"tickSize":-15,"values":[55200,55400,55600,55800,56000],"format":"d","grid":true,"gridDash":[2,3]}},
     "y":{"field":"lo","type":"quantitative","scale":{"domain":[0,12.4],"nice":false,"zero":false},"axis":{"title":["Jitter","/ns"],"titleFontSize":28,"titleLineHeight":31,"titleX":-139,"titleBaseline":"top","values":[0,2,4,6,8,10,12],"labelExpr":"datum.value % 4 === 0 ? toString(datum.value) : ''","labelFontSize":27,"labelPadding":38,"tickSize":{"condition":{"test":"datum.value % 4 !== 0","value":-13},"value":-24},"grid":true,"gridDash":[4,3]}},
     "y2":{"field":"hi"}}},
   {"data":{"name":"jtspike"},"mark":{"type":"rule","color":"#ff0000","strokeWidth":2.5},
    "encoding":{"x":{"field":"mjd","type":"quantitative"},"y":{"field":"lo","type":"quantitative","axis":{"orient":"right","title":null,"labels":false,"domain":false,"grid":false,"values":[0,2,4,6,8,10,12],"tickSize":{"condition":{"test":"datum.value % 4 !== 0","value":-4},"value":-14}}},"y2":{"field":"hi"}}},
   {"data":{"name":"frame"},"mark":{"type":"rect","fill":null,"fillOpacity":0,"stroke":"#000000","strokeWidth":4,"cornerRadius":12},
    "encoding":{"x":{"field":"x1","type":"quantitative"},"x2":{"field":"x2"},"y":{"field":"y1","type":"quantitative","axis":null},"y2":{"field":"y2"}}}
  ]}
]
}
